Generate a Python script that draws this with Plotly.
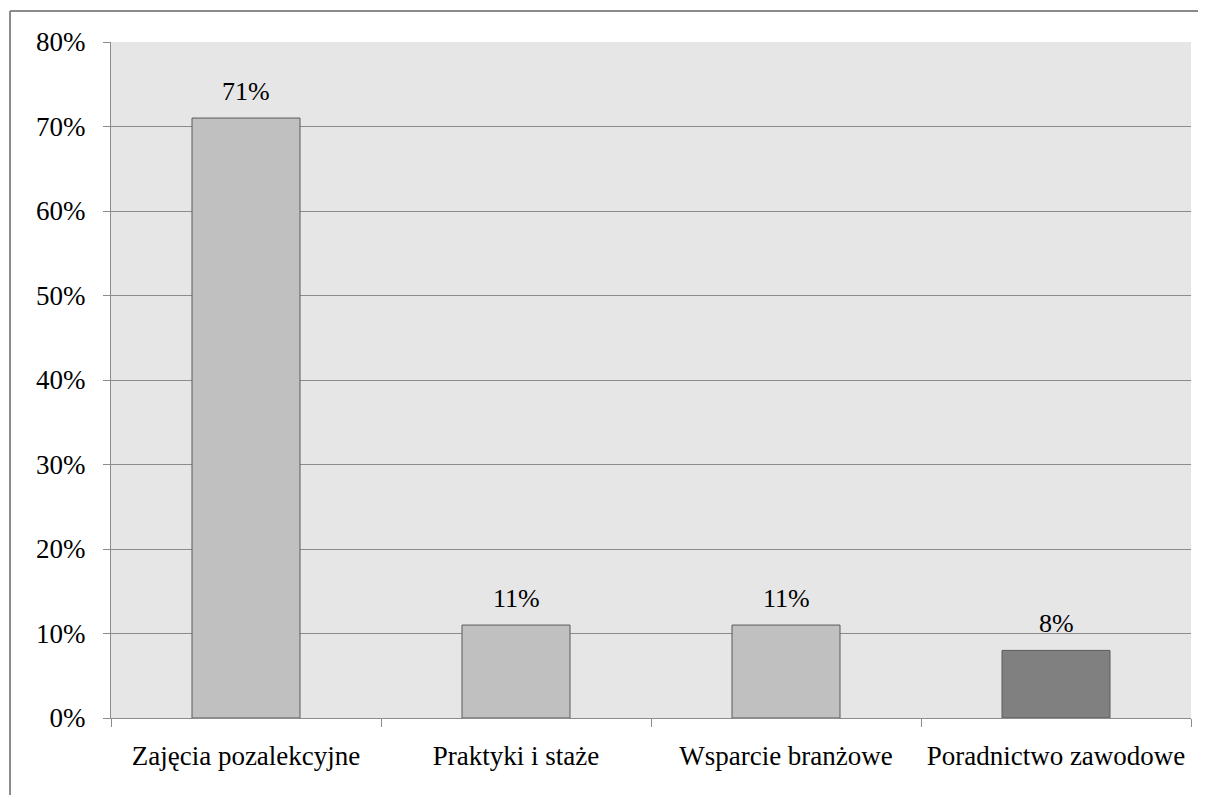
import plotly.graph_objects as go

categories = ["Zajęcia pozalekcyjne", "Praktyki i staże", "Wsparcie branżowe", "Poradnictwo zawodowe"]
values = [0.71, 0.11, 0.11, 0.08]
labels = ["71%", "11%", "11%", "8%"]
bar_colors = ["#c0c0c0", "#c0c0c0", "#c0c0c0", "#808080"]

SERIF = "'Liberation Serif', serif"

fig = go.Figure()
fig.add_trace(go.Bar(
    x=categories, y=values,
    marker=dict(color=bar_colors, line=dict(color="#5a5a5a", width=1)),
    width=0.4,
))

# value labels above bars
for cat, val, lab in zip(categories, values, labels):
    fig.add_annotation(x=cat, y=val, text=lab, showarrow=False,
                       yanchor="bottom", yshift=10,
                       font=dict(family=SERIF, size=26, color="black"))

# page body adds ~8px margin, so the figure is shrunk/shifted to compensate
fig.update_layout(
    width=1198, height=787,
    margin=dict(l=103, r=15, t=34, b=77),
    paper_bgcolor="white", plot_bgcolor="#e6e6e6",
    font=dict(family=SERIF, size=26, color="black"),
    showlegend=False,
    shapes=[
        # outer chart border (left and top edges visible)
        dict(type="line", xref="paper", yref="paper", x0=-0.0935, x1=1.2, y0=1.0459, y1=1.0459,
             line=dict(color="#8a8a8a", width=2)),
        dict(type="line", xref="paper", yref="paper", x0=-0.0935, x1=-0.0935, y0=1.0459, y1=-0.2,
             line=dict(color="#8a8a8a", width=2)),
    ],
)
fig.update_yaxes(
    range=[0, 0.8], dtick=0.1, tickformat=".0%",
    showgrid=True, gridcolor="#8c8c8c", gridwidth=1,
    showline=True, linecolor="#8c8c8c", linewidth=1,
    ticks="outside", ticklen=7, tickcolor="#8c8c8c",
    tickfont=dict(family=SERIF, size=27), zeroline=False,
    ticklabelstandoff=12,
)
fig.update_xaxes(
    showline=True, linecolor="#8c8c8c", linewidth=1,
    ticks="outside", tickson="boundaries", ticklen=8, tickcolor="#8c8c8c",
    tickfont=dict(family=SERIF, size=27),
    ticklabelstandoff=14,
)

fig.write_html("out.html")
